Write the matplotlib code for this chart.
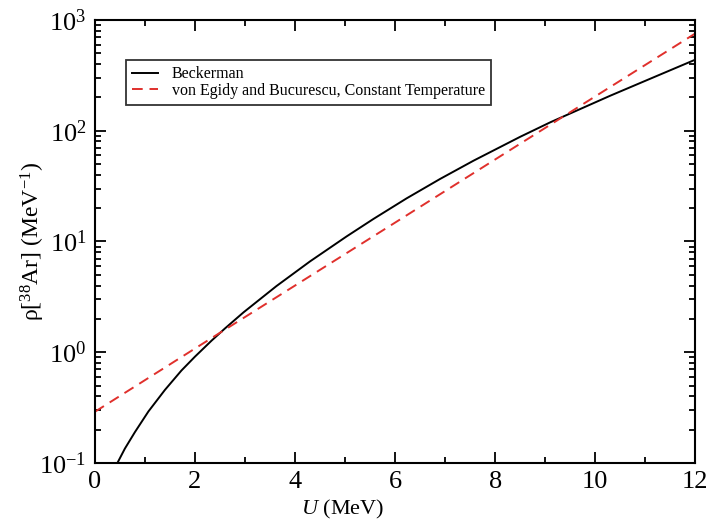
import matplotlib
matplotlib.use("Agg")
import matplotlib.pyplot as plt
from matplotlib.ticker import MultipleLocator, LogLocator, NullFormatter

plt.rcParams['font.family'] = ['Liberation Serif', 'DejaVu Serif']
plt.rcParams['mathtext.fontset'] = 'custom'
plt.rcParams['mathtext.rm'] = 'Liberation Serif'
plt.rcParams['mathtext.it'] = 'Liberation Serif:italic'

# Beckerman level density
u_beck = [0.45, 0.6, 0.8, 1.07, 1.4, 1.73, 2.0, 2.33, 2.6, 2.97, 3.63, 4.3,
          5.03, 5.57, 6.23, 6.9, 7.57, 8.5, 9.1, 10.3, 11.0, 12.0]
rho_beck = [0.100, 0.135, 0.19, 0.292, 0.457, 0.684, 0.912, 1.27, 1.64, 2.29,
            3.96, 6.61, 11.1, 16.0, 24.5, 36.7, 53.7, 88.1, 119.0, 207.0,
            282.0, 438.0]

# von Egidy & Bucurescu, constant temperature
u_ct = [0, 2, 4, 6, 8, 10, 12]
rho_ct = [0.29, 1.08, 4.0, 14.8, 55.0, 204.0, 755.0]

fig = plt.figure(figsize=(7.08, 5.2), dpi=100)
ax = fig.add_axes([0.134, 0.1096, 0.848, 0.852])

ax.plot(u_beck, rho_beck, color='black', lw=1.4, label='Beckerman')
ax.plot(u_ct, rho_ct, color='#e0302c', lw=1.4, dashes=(5.5, 3.5),
        label='von Egidy and Bucurescu, Constant Temperature')

ax.set_yscale('log')
ax.set_xlim(0, 12)
ax.set_ylim(0.1, 1000)
ax.xaxis.set_major_locator(MultipleLocator(2))
ax.xaxis.set_minor_locator(MultipleLocator(1))
ax.yaxis.set_major_locator(LogLocator(base=10, numticks=10))
ax.yaxis.set_minor_locator(LogLocator(base=10, subs=range(2, 10), numticks=10))
ax.yaxis.set_minor_formatter(NullFormatter())

ax.tick_params(which='both', direction='in', top=True, right=True, width=1.3)
ax.tick_params(which='major', length=8, labelsize=19, pad=6)
ax.tick_params(which='minor', length=4)
for sp in ax.spines.values():
    sp.set_linewidth(1.5)

ax.set_xlabel('$U$ (MeV)', fontsize=16)
ax.xaxis.set_label_coords(0.413, -0.078)
ax.set_ylabel('ρ[$^{38}$Ar] (MeV$^{-1}$)', fontsize=17)
ax.yaxis.set_label_coords(-0.08, 0.5)

leg = ax.legend(loc='upper left', bbox_to_anchor=(0.052, 0.91), fontsize=11.5,
                frameon=True, fancybox=False, edgecolor='black',
                borderpad=0.4, handlelength=1.6, handletextpad=0.85,
                labelspacing=0.05, borderaxespad=0)
leg.get_frame().set_linewidth(1.3)

fig.savefig('out.png', dpi=100)
